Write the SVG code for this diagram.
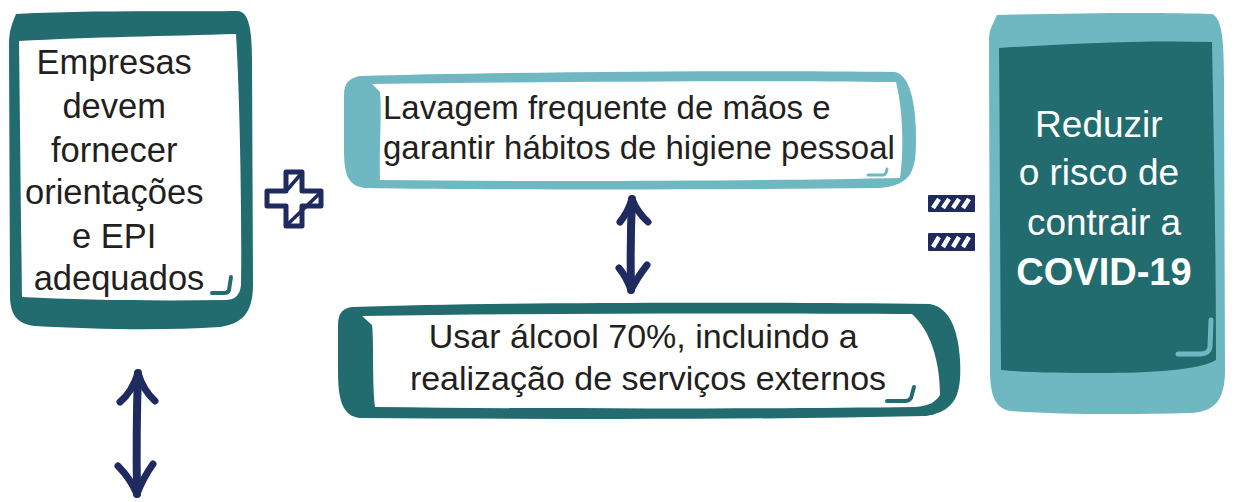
<svg xmlns="http://www.w3.org/2000/svg" width="1239" height="502" viewBox="0 0 1239 502">
<style>
.dark{fill:#226c70}
.light{fill:#6fb8c1}
.white{fill:#ffffff}
.t{font-family:"Liberation Sans",Arial,sans-serif;fill:#231f20}
.tw{font-family:"Liberation Sans",Arial,sans-serif;fill:#ffffff}
.nav{stroke:#1f2a5e;fill:none;stroke-linecap:round;stroke-linejoin:round}
.mark{fill:none;stroke-linecap:round;stroke-linejoin:round}
</style>
<rect width="1239" height="502" fill="#ffffff"/>

<g id="node-empresas">
<path class="dark" d="M 16,14 C 90,10 180,12 238,11 C 249,12 252,30 252,60 L 253,285 C 253,315 240,324 220,327 C 160,331 90,329 35,326 C 15,324 10,312 10,295 L 9,45 C 9,30 12,24 16,14 Z"/>
<path class="white" d="M 19,41 C 90,37 170,36 236,34 C 240,100 242,220 241,285 C 240,296 234,300 225,300 C 150,301 80,300 22,297 C 21,220 20,120 19,41 Z"/>
<path class="mark" stroke="#226c70" stroke-width="4" d="M 231,277 L 229,290 Q 228,293 224,293 L 212,293"/>
<text class="t" font-size="34.5" text-anchor="middle">
<tspan x="119" y="74">Empresas</tspan>
<tspan x="119" y="118">devem</tspan>
<tspan x="119" y="162">fornecer</tspan>
<tspan x="119" y="204">orientações</tspan>
<tspan x="119" y="248">e EPI</tspan>
<tspan x="119" y="290">adequados</tspan>
</text>
</g>

<g id="node-lavagem">
<path class="light" d="M 360,76 C 500,72 750,70 895,72 C 912,76 916,110 916,140 C 916,170 912,185 880,188 C 700,190 500,190 365,188 C 348,186 344,175 344,150 L 344,95 C 344,82 350,78 360,76 Z"/>
<path class="white" d="M 372,84 C 550,82 750,80 896,82 C 903,110 904,150 900,178 C 750,181 550,182 380,180 C 379,150 382,110 380,92 Z"/>
<path class="mark" stroke="#6fb8c1" stroke-width="3" d="M 887,169 L 886,173 Q 885,175 882,175 L 868,175"/>
<text class="t" font-size="33">
<tspan x="383" y="119">Lavagem frequente de mãos e</tspan>
<tspan x="383" y="159">garantir hábitos de higiene pessoal</tspan>
</text>
</g>

<g id="node-alcool">
<path class="dark" d="M 352,307 C 500,302 750,302 930,304 C 950,308 958,330 960,360 C 962,395 955,412 925,416 C 750,420 550,419 360,418 C 342,416 338,400 338,370 L 338,325 C 338,312 344,308 352,307 Z"/>
<path class="white" d="M 362,316 C 550,313 750,313 912,314 C 930,330 940,360 940,395 C 935,403 928,406 915,407 C 750,409 550,409 375,407 C 372,380 374,340 372,325 Z"/>
<path class="mark" stroke="#226c70" stroke-width="4" d="M 914,387 L 911,398 Q 909,401 905,401 L 887,401"/>
<text class="t" font-size="34" text-anchor="middle">
<tspan x="648" y="348">Usar álcool 70%, incluindo a</tspan>
<tspan x="648" y="390">realização de serviços externos</tspan>
</text>
</g>

<g id="node-reduzir">
<path class="light" d="M 997,15 C 1080,13 1160,12 1212,14 C 1222,18 1224,40 1224,80 L 1225,370 C 1225,400 1215,412 1190,413 C 1120,415 1050,414 1010,411 C 995,408 990,395 990,370 L 989,40 C 989,30 992,26 997,15 Z"/>
<path class="dark" d="M 999,48 C 1060,44 1140,40 1212,42 C 1214,150 1216,260 1216,360 C 1200,370 1150,373 1100,373 C 1060,373 1020,372 1001,370 C 1000,260 1000,150 999,48 Z"/>
<path class="mark" stroke="#6fb8c1" stroke-width="5" d="M 1211,320 L 1210,347 Q 1209,354 1200,354 L 1178,354"/>
<text class="tw" font-size="37" text-anchor="middle">
<tspan x="1104" y="137">Reduzir</tspan>
<tspan x="1104" y="185">o risco de</tspan>
<tspan x="1104" y="235">contrair a</tspan>
</text>
<text class="tw" font-size="38" font-weight="bold" text-anchor="middle" x="1104" y="285">COVID-19</text>
</g>

<g id="plus-sign">
<path d="M 286,172 L 302,172 L 302,191 L 321,191 L 321,206 L 302,206 L 302,226 L 286,226 L 286,206 L 267,206 L 267,191 L 286,191 Z" fill="#ffffff" stroke="#1f2a5e" stroke-width="5" stroke-linejoin="round"/>
<path class="nav" stroke-width="3.5" d="M 300,175 L 288,189 M 319,194 L 289,223"/>
</g>

<g id="equals-sign">
<rect x="928" y="195" width="47" height="17" fill="#1f2a5e" rx="1"/>
<rect x="928" y="233" width="47" height="18" fill="#1f2a5e" rx="1"/>
<path stroke="#ffffff" stroke-width="4.5" fill="none" d="M 933,208 L 939,199 M 943,208 L 949,199 M 953,208 L 959,199 M 963,208 L 969,199 M 933,247 L 939,237 M 943,247 L 949,237 M 953,247 L 959,237 M 963,247 L 969,237"/>
</g>

<g id="connectors">
<path class="nav" stroke-width="8" d="M 138,373 Q 136,430 137,494"/>
<path class="nav" stroke-width="7" d="M 120,402 Q 132,392 138,373 M 155,401 Q 143,390 138,373 M 118,466 Q 130,478 137,494 M 153,464 Q 143,478 137,494"/>
<path class="nav" stroke-width="8" d="M 632,199 Q 630,245 631,290"/>
<path class="nav" stroke-width="7" d="M 620,222 Q 628,212 632,199 M 648,222 Q 637,212 632,199 M 619,268 Q 627,278 631,290 M 647,265 Q 637,278 631,290"/>
</g>
</svg>
